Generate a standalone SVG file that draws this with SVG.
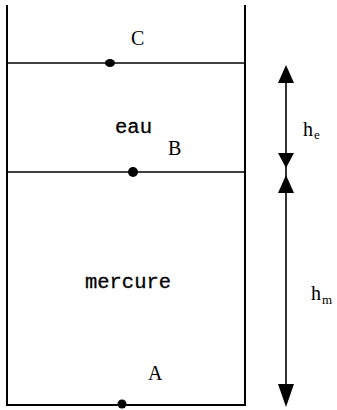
<svg xmlns="http://www.w3.org/2000/svg" width="337" height="410" viewBox="0 0 337 410">
<style>
.wall{stroke:#000;stroke-width:2;fill:none}
.lvl{stroke:#000;stroke-width:1.6;fill:none}
.dot{fill:#000}
.lbl{font-family:"Liberation Serif",serif;font-size:20px;fill:#000}
.mono{font-family:"Liberation Mono",monospace;font-size:20px;fill:#000;stroke:#000;stroke-width:0.3}
.sub{font-family:"Liberation Serif",serif;font-size:13px;fill:#000}
.dim{stroke:#000;stroke-width:1.6}
.head{fill:#000}
</style>
<rect width="337" height="410" fill="#fff"/>
<g id="tube">
<path class="wall" d="M7,5 V405 H245 V5"/>
</g>
<g id="level-C">
<line class="lvl" x1="7" y1="63" x2="245" y2="63"/>
<ellipse class="dot" cx="110" cy="63" rx="5" ry="4"/>
<text class="lbl" x="131" y="45">C</text>
</g>
<g id="level-B">
<line class="lvl" x1="7" y1="172" x2="245" y2="172"/>
<circle class="dot" cx="133" cy="172" r="5"/>
<text class="lbl" x="168" y="155">B</text>
</g>
<g id="point-A">
<circle class="dot" cx="122" cy="404" r="4.5"/>
<text class="lbl" x="148" y="380">A</text>
</g>
<g id="eau">
<text class="mono" x="115" y="133" textLength="37" lengthAdjust="spacingAndGlyphs">eau</text>
</g>
<g id="mercure">
<text class="mono" x="85" y="288" textLength="86" lengthAdjust="spacingAndGlyphs">mercure</text>
</g>
<g id="connectors">
<line class="dim" x1="286" y1="75" x2="286" y2="395"/>
<polygon class="head" points="286,65 278,83 294,83"/>
<polygon class="head" points="286,168 278,153 294,153"/>
<polygon class="head" points="286,175 278,193 294,193"/>
<polygon class="head" points="286,407 278,384 294,384"/>
</g>
<g id="label-he">
<text class="lbl" x="303" y="136">h</text><text class="sub" x="314" y="139">e</text>
</g>
<g id="label-hm">
<text class="lbl" x="311" y="300">h</text><text class="sub" x="322" y="304">m</text>
</g>
</svg>
